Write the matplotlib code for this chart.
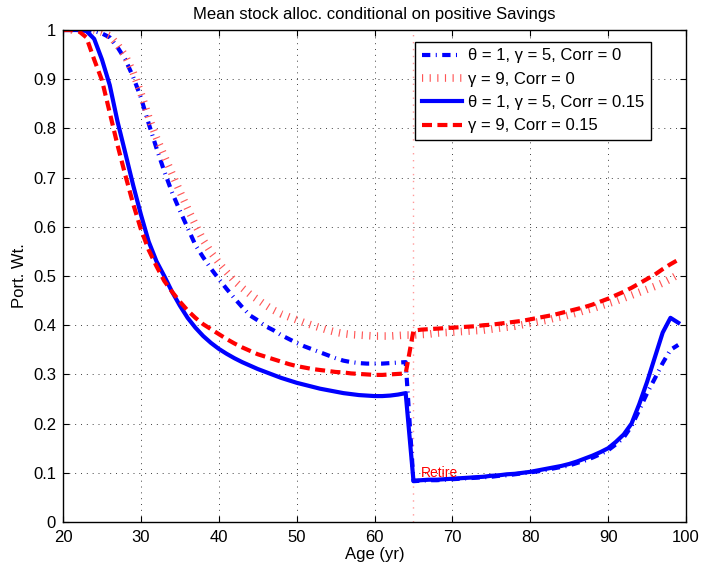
import numpy as np
import matplotlib
matplotlib.use("Agg")
import matplotlib.pyplot as plt

plt.rcParams["font.family"] = ["Liberation Sans", "DejaVu Sans"]
plt.rcParams["font.size"] = 12

# ----------------------------------------------------------------------
# data: mean stock weight by age, ages 20..99
# ----------------------------------------------------------------------
ages = list(range(20, 100))

# theta = 1, gamma = 5, Corr = 0
alloc_g5_c0 = [
    1.000, 1.000, 1.000, 1.000, 0.998, 0.993, 0.985, 0.965, 0.940, 0.905,   # 20-29
    0.863, 0.810, 0.760, 0.713, 0.670, 0.633, 0.598, 0.563, 0.538, 0.515,   # 30-39
    0.494, 0.474, 0.455, 0.437, 0.420, 0.410, 0.398, 0.390, 0.380, 0.372,   # 40-49
    0.364, 0.357, 0.351, 0.345, 0.339, 0.333, 0.328, 0.325, 0.323, 0.322,   # 50-59
    0.322, 0.322, 0.323, 0.324, 0.325, 0.083, 0.084, 0.085, 0.085, 0.086,   # 60-69
    0.087, 0.088, 0.089, 0.090, 0.091, 0.092, 0.094, 0.095, 0.097, 0.099,   # 70-79
    0.101, 0.103, 0.106, 0.109, 0.112, 0.115, 0.120, 0.125, 0.131, 0.138,   # 80-89
    0.146, 0.158, 0.172, 0.195, 0.228, 0.262, 0.292, 0.323, 0.350, 0.360,   # 90-99
]

# gamma = 9, Corr = 0
alloc_g9_c0 = [
    1.000, 1.000, 1.000, 1.000, 0.999, 0.995, 0.988, 0.970, 0.947, 0.914,
    0.872, 0.823, 0.781, 0.744, 0.708, 0.672, 0.637, 0.604, 0.573, 0.548,
    0.527, 0.508, 0.490, 0.476, 0.463, 0.452, 0.441, 0.431, 0.423, 0.417,
    0.411, 0.405, 0.400, 0.395, 0.390, 0.386, 0.383, 0.381, 0.380, 0.379,
    0.378, 0.378, 0.378, 0.379, 0.380, 0.380, 0.381, 0.382, 0.384, 0.385,
    0.386, 0.387, 0.388, 0.389, 0.390, 0.392, 0.394, 0.396, 0.398, 0.401,
    0.404, 0.407, 0.410, 0.414, 0.417, 0.421, 0.425, 0.430, 0.434, 0.439,
    0.444, 0.449, 0.455, 0.461, 0.467, 0.473, 0.479, 0.486, 0.494, 0.503,
]

# theta = 1, gamma = 5, Corr = 0.15
alloc_g5_c15 = [
    1.000, 1.000, 1.000, 0.998, 0.982, 0.940, 0.888, 0.814, 0.750, 0.685,
    0.625, 0.570, 0.530, 0.500, 0.468, 0.440, 0.415, 0.395, 0.378, 0.364,
    0.352, 0.342, 0.333, 0.325, 0.318, 0.311, 0.305, 0.299, 0.293, 0.288,
    0.283, 0.279, 0.275, 0.271, 0.268, 0.265, 0.262, 0.260, 0.258, 0.257,
    0.256, 0.256, 0.257, 0.259, 0.262, 0.084, 0.085, 0.086, 0.086, 0.087,
    0.088, 0.089, 0.090, 0.091, 0.092, 0.094, 0.095, 0.097, 0.098, 0.100,
    0.102, 0.105, 0.108, 0.111, 0.114, 0.118, 0.123, 0.129, 0.135, 0.142,
    0.150, 0.163, 0.178, 0.200, 0.240, 0.285, 0.335, 0.385, 0.415, 0.405,
]

# gamma = 9, Corr = 0.15
alloc_g9_c15 = [
    1.000, 1.000, 0.998, 0.985, 0.940, 0.898, 0.832, 0.766, 0.705, 0.647,
    0.595, 0.553, 0.520, 0.490, 0.468, 0.448, 0.430, 0.415, 0.402, 0.392,
    0.382, 0.372, 0.363, 0.355, 0.348, 0.341, 0.336, 0.331, 0.326, 0.321,
    0.317, 0.314, 0.311, 0.309, 0.307, 0.305, 0.304, 0.302, 0.301, 0.300,
    0.299, 0.299, 0.300, 0.301, 0.302, 0.389, 0.391, 0.392, 0.393, 0.394,
    0.395, 0.396, 0.397, 0.398, 0.400, 0.401, 0.403, 0.405, 0.407, 0.409,
    0.412, 0.415, 0.418, 0.421, 0.425, 0.429, 0.433, 0.437, 0.442, 0.448,
    0.454, 0.461, 0.468, 0.476, 0.485, 0.494, 0.503, 0.514, 0.524, 0.533,
]

series_labels = [
    "\u03b8 = 1, \u03b3 = 5, Corr = 0",
    "\u03b3 = 9, Corr = 0",
    "\u03b8 = 1, \u03b3 = 5, Corr = 0.15",
    "\u03b3 = 9, Corr = 0.15",
]
retire_age = 65

# ----------------------------------------------------------------------
# figure
# ----------------------------------------------------------------------
fig = plt.figure(figsize=(7.04, 5.66), dpi=100)
ax = fig.add_axes([0.0895, 0.0777, 0.885, 0.8693])

ax.plot(ages, alloc_g5_c0, color="#0000ff", lw=3.0,
        linestyle=(0, (2.0, 1.3, 0.25, 1.3)), dash_capstyle="butt",
        label=series_labels[0])
ax.plot(ages, alloc_g9_c0, color="#ff5555", lw=5.5,
        linestyle=(0, (0.15, 0.85)), dash_capstyle="butt",
        label=series_labels[1])
ax.plot(ages, alloc_g5_c15, color="#0000ff", lw=3.0,
        label=series_labels[2])
ax.plot(ages, alloc_g9_c15, color="#ff0000", lw=3.0,
        linestyle=(0, (2.4, 1.3)), dash_capstyle="butt",
        label=series_labels[3])

# retirement marker
ax.axvline(retire_age, color="#ff9a9a", lw=1.0, linestyle=(0, (1, 4)), zorder=1)
ax.text(retire_age + 1, 0.1, "Retire", color="#ff0000", fontsize=10,
        ha="left", va="center")

ax.set_xlim(20, 100)
ax.set_ylim(0, 1)
ax.set_xticks(np.arange(20, 101, 10))
ax.set_yticks(np.arange(0, 1.01, 0.1))
ax.set_yticklabels(["0"] + [f"{v:.1f}" for v in np.arange(0.1, 0.95, 0.1)] + ["1"])
ax.grid(True, color="#404040", lw=0.7, linestyle=(0, (1, 5)))
ax.tick_params(direction="in", length=4, width=0.8, top=True, right=True,
               labelsize=12)
ax.tick_params(axis="x", pad=6)
ax.tick_params(axis="y", pad=5)
for sp in ax.spines.values():
    sp.set_linewidth(1.0)

ax.set_xlabel("Age (yr)", fontsize=12, labelpad=1)
ax.set_ylabel("Port. Wt.", fontsize=12, labelpad=4)
ax.set_title("Mean stock alloc. conditional on positive Savings",
             fontsize=12, pad=8)

leg = ax.legend(loc="upper right", bbox_to_anchor=(0.944, 0.976),
                fontsize=12, handlelength=2.4, handletextpad=0.4,
                labelspacing=0.5, borderpad=0.4, borderaxespad=0.0,
                fancybox=False, framealpha=1.0, edgecolor="black")
leg.get_frame().set_linewidth(1.0)

fig.savefig("out.png", dpi=100)
